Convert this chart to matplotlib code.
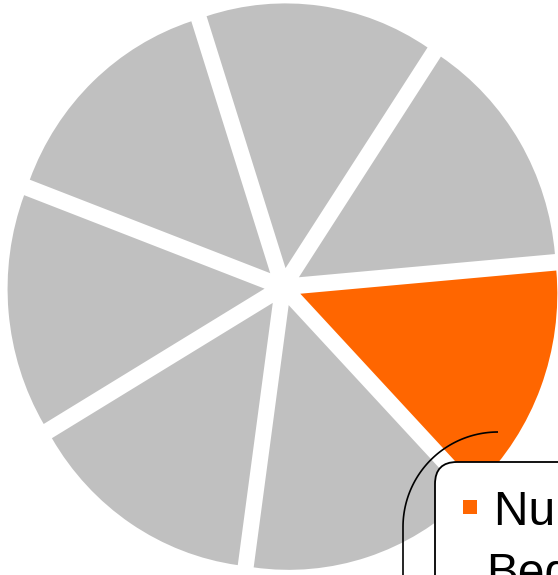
import numpy as np
import matplotlib
matplotlib.use("Agg")
import matplotlib.pyplot as plt
from matplotlib.patches import FancyBboxPatch

# ---- data ----
categories = ["Number of Beds", "Cat 2", "Cat 3", "Cat 4", "Cat 5", "Cat 6", "Cat 7"]
values = [1, 1, 1, 1, 1, 1, 1]
colors = ["#FF6600"] + ["#C0C0C0"] * 6
label_line1 = "Number of"
label_line2 = "Beds"

W, H = 558, 575
DPI = 100
STRETCH = 1.03  # vertical stretch of the image

fig = plt.figure(figsize=(W / DPI, H / DPI), dpi=DPI)
fig.patch.set_facecolor("white")

# pie axes: x in pixels, y in pixels/STRETCH (upwards)
ax = fig.add_axes([0, 0, 1, 1])
cx, cy_pix = 283.0, 287.0
cy = (H - cy_pix) / STRETCH
R = 257.0
EXPL = 18.5
ax.pie(values, colors=colors, startangle=-46.4, counterclock=True,
       radius=R, center=(cx, cy), explode=[EXPL] * len(values),
       wedgeprops=dict(linewidth=0))
ax.set_aspect("auto")
ax.set_xlim(0, W)
ax.set_ylim(0, H / STRETCH)
ax.axis("off")

# overlay axes in pixel coordinates (y downwards)
ov = fig.add_axes([0, 0, 1, 1])
ov.set_xlim(0, W)
ov.set_ylim(H, 0)
ov.axis("off")
ov.patch.set_alpha(0)

# connector curve
t = np.linspace(np.pi / 2, np.pi, 60)
xs = list(498 + 95 * np.cos(t)) + [403]
ys = list(527 - 95 * np.sin(t)) + [600]
ov.plot(xs, ys, color="black", lw=1.2, solid_capstyle="butt")

# callout box
box = FancyBboxPatch((435, 462), 400, 300,
                     boxstyle="round,pad=0,rounding_size=22",
                     facecolor="white", edgecolor="black", lw=1.3)
ov.add_patch(box)

# legend marker and text
ov.add_patch(plt.Rectangle((463, 500), 14, 14, facecolor="#FF6600", edgecolor="none"))
ov.text(494, 525, label_line1, fontsize=34.5, family="Liberation Sans",
        va="baseline", ha="left", color="black")
ov.text(486, 587, label_line2, fontsize=34.5, family="Liberation Sans",
        va="baseline", ha="left", color="black")

fig.savefig("out.png", dpi=DPI)
